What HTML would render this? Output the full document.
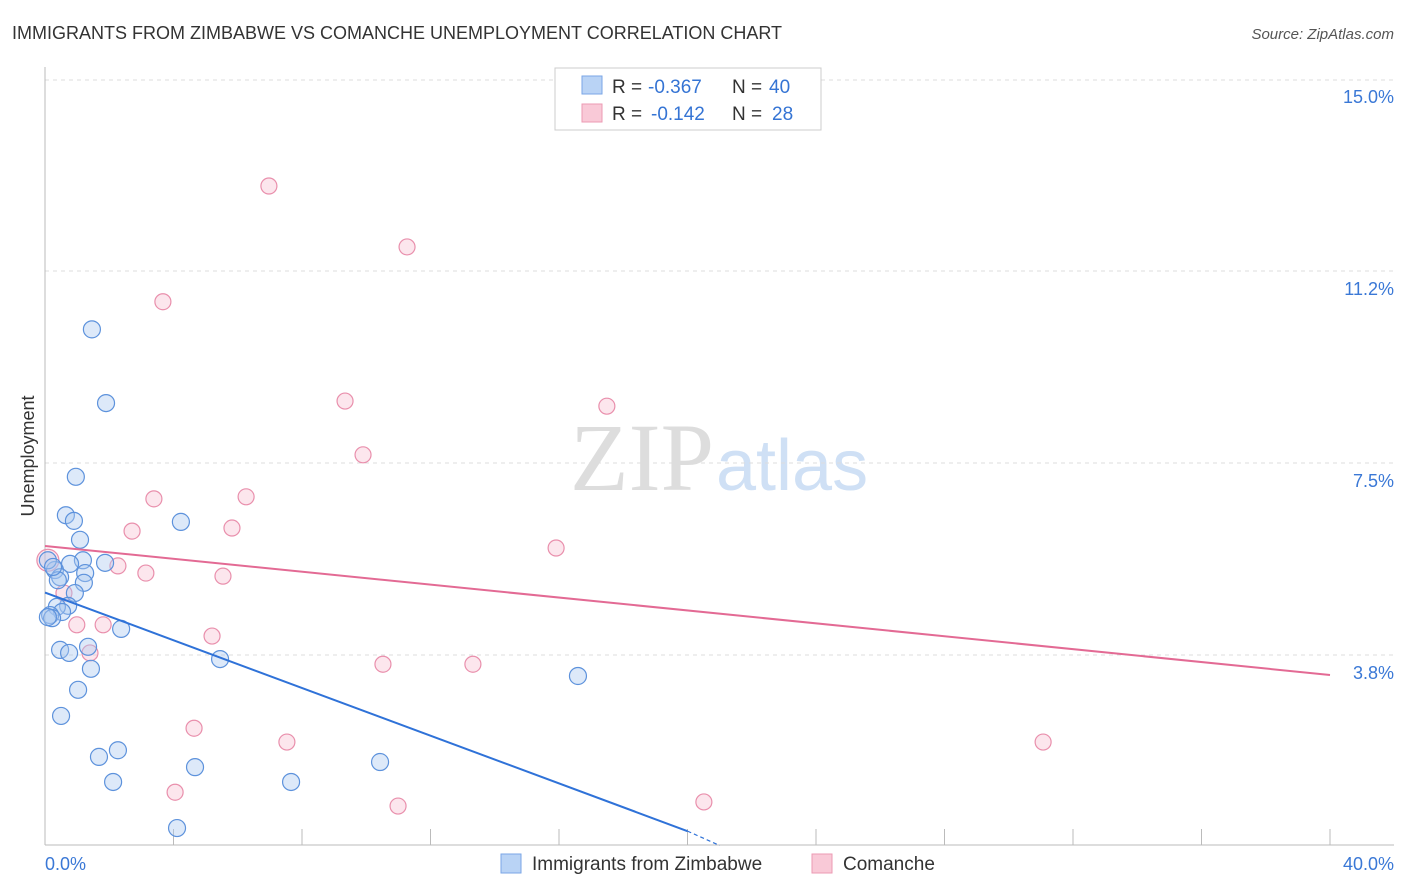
<!DOCTYPE html>
<html><head><meta charset="utf-8"><style>
body{margin:0;background:#fff;font-family:"Liberation Sans",sans-serif;}
#c{position:absolute;left:0;top:0;width:1406px;height:892px;}
</style></head><body>
<svg id="c" width="1406" height="892">
<text x="12" y="39" font-size="18" fill="#333">IMMIGRANTS FROM ZIMBABWE VS COMANCHE UNEMPLOYMENT CORRELATION CHART</text>
<text x="1394" y="39" font-size="15" fill="#555" font-style="italic" text-anchor="end">Source: ZipAtlas.com</text>
<text x="714" y="490" font-size="96" fill="#ddd" font-family="Liberation Serif,serif" text-anchor="end">ZIP</text>
<text x="716" y="490" font-size="72" fill="#cfe0f5" text-anchor="start">atlas</text>
<g id="grid"></g>
<g id="axes"></g>
<g id="pts"></g>
<g id="lines"></g>
<text transform="translate(34,456) rotate(-90)" font-size="18" fill="#333" text-anchor="middle">Unemployment</text>
<g>
<rect x="555" y="68" width="266" height="62" fill="#fff" stroke="#ccc"/>
<rect x="582" y="76" width="20" height="18" fill="#b9d3f5" stroke="#7aa6e6"/>
<rect x="582" y="104" width="20" height="18" fill="#f9c9d7" stroke="#ec9ab3"/>
<text x="612" y="93" font-size="19" fill="#333">R =</text>
<text x="648" y="93" font-size="19" fill="#3574d4">-0.367</text>
<text x="732" y="93" font-size="19" fill="#333">N =</text>
<text x="769" y="93" font-size="19" fill="#3574d4">40</text>
<text x="612" y="120" font-size="19" fill="#333">R =</text>
<text x="651" y="120" font-size="19" fill="#3574d4">-0.142</text>
<text x="732" y="120" font-size="19" fill="#333">N =</text>
<text x="772" y="120" font-size="19" fill="#3574d4">28</text>
</g>
<g>
<rect x="501" y="854" width="20" height="19" fill="#b9d3f5" stroke="#7aa6e6"/>
<text x="532" y="870" font-size="19" fill="#333">Immigrants from Zimbabwe</text>
<rect x="812" y="854" width="20" height="19" fill="#f9c9d7" stroke="#ec9ab3"/>
<text x="843" y="870" font-size="19" fill="#333">Comanche</text>
</g>
</svg>
<script>
const blueX=[1.46,1.9,0.96,0.65,0.9,4.23,1.09,1.18,1.87,0.78,0.31,1.25,0.47,0.4,1.21,0.93,0.72,0.37,0.53,0.16,0.22,2.37,1.34,0.47,0.75,5.45,1.43,16.59,1.03,0.5,2.27,1.68,10.43,4.67,2.12,7.66,4.11,0.09,0.25,0.09];
const blueY=[10.11,8.67,7.23,6.48,6.37,6.35,6.0,5.6,5.55,5.53,5.41,5.35,5.27,5.21,5.16,4.96,4.71,4.69,4.59,4.53,4.47,4.26,3.91,3.85,3.79,3.67,3.48,3.34,3.07,2.56,1.89,1.76,1.66,1.56,1.27,1.27,0.37,5.6,5.47,4.49];
const pinkX=[6.97,11.27,3.67,9.34,17.49,9.9,3.39,6.26,2.71,5.82,15.91,0.09,2.27,3.14,5.54,0.59,5.2,0.99,1.81,1.4,10.52,13.32,4.64,7.53,31.07,4.05,10.99,20.51];
const pinkY=[12.91,11.72,10.65,8.71,8.61,7.66,6.8,6.84,6.17,6.23,5.84,5.6,5.49,5.35,5.29,4.96,4.12,4.34,4.34,3.79,3.57,3.57,2.32,2.05,2.05,1.07,0.8,0.88];
const blueTrend=[0,4.97,20,0.31,21,0.03];
const pinkTrend=[0,5.88,40,3.36];
const yTicks=[15.0,11.2,7.5,3.8];
const yTickVals=[15.0,11.25,7.5,3.75];
const xTickVals=[0,4,8,12,16,20,24,28,32,36,40];
const X=v=>45+v*32.125, Y=v=>847-v*51.2;
const NS="http://www.w3.org/2000/svg";
function mk(t,a,p){const e=document.createElementNS(NS,t);for(const k in a)e.setAttribute(k,a[k]);p.appendChild(e);return e;}
const grid=document.getElementById('grid'),axes=document.getElementById('axes');
yTickVals.forEach((v,i)=>{
 const l=mk('line',{x1:45,x2:1394,y1:Y(v)+(i===0?1:0),y2:Y(v)+(i===0?1:0),stroke:'#ddd','stroke-dasharray':'4,4'},grid);
 
 
 const t=mk('text',{x:1394,y:Y(v)+24,'font-size':18,fill:'#3a78d6','text-anchor':'end'},axes);
 t.textContent=yTicks[i].toFixed(1)+'%';
 
 
});
const ax=mk('line',{x1:45,x2:45,y1:67,y2:845,stroke:'#bbb'},axes);


const bx=mk('line',{x1:45,x2:1394,y1:845,y2:845,stroke:'#bbb'},axes);


xTickVals.forEach(v=>{const l=mk('line',{x1:X(v),x2:X(v),y1:829,y2:845,stroke:'#bbb'},axes);
 
 });
let t0=mk('text',{x:45,y:870,'font-size':18,fill:'#3a78d6'},axes);t0.textContent='0.0%';


let t1=mk('text',{x:1394,y:870,'font-size':18,fill:'#3a78d6','text-anchor':'end'},axes);t1.textContent='40.0%';


const pts=document.getElementById('pts');
pinkX.forEach((x,i)=>{const c=mk('circle',{cx:X(x),cy:Y(pinkY[i]),r:i===11?11:8,fill:'rgba(246,184,204,0.35)',stroke:'#e98fac','stroke-width':1.2},pts);
 
 });
blueX.forEach((x,i)=>{const c=mk('circle',{cx:X(x),cy:Y(blueY[i]),r:8.5,fill:'rgba(170,200,240,0.4)',stroke:'#5d92dc','stroke-width':1.2},pts);
 
 });
const lines=document.getElementById('lines');
let bl=mk('line',{x1:X(blueTrend[0]),y1:Y(blueTrend[1]),x2:X(blueTrend[2]),y2:Y(blueTrend[3]),stroke:'#2f72d8','stroke-width':2},lines);


let bd=mk('line',{x1:X(blueTrend[2]),y1:Y(blueTrend[3]),x2:X(blueTrend[4]),y2:Y(blueTrend[5]),stroke:'#2f72d8','stroke-width':1.2,'stroke-dasharray':'4,3'},lines);


let pl=mk('line',{x1:X(pinkTrend[0]),y1:Y(pinkTrend[1]),x2:X(pinkTrend[2]),y2:Y(pinkTrend[3]),stroke:'#e36a94','stroke-width':2},lines);


</script>
</body></html>
